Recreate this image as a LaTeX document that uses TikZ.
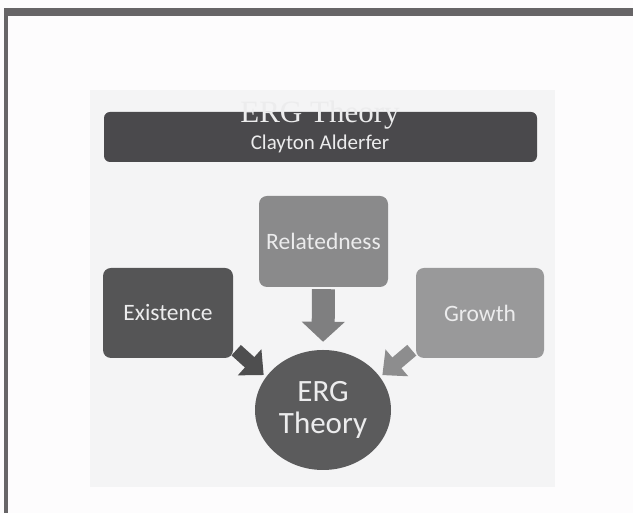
\documentclass[tikz,border=0pt]{standalone}
\usepackage{fontspec}
\usepackage{tikz}
\usetikzlibrary{arrows.meta,positioning,shapes.geometric}
\newfontfamily\bodyfont{Carlito}
\newfontfamily\titlefont{Liberation Serif}
\definecolor{pagewhite}{RGB}{253,252,253}
\definecolor{slidegray}{RGB}{244,244,245}
\definecolor{framegray}{RGB}{103,101,103}
\definecolor{bannergray}{RGB}{74,73,76}
\definecolor{existgray}{RGB}{85,85,86}
\definecolor{relategray}{RGB}{138,138,139}
\definecolor{growgray}{RGB}{153,153,154}
\definecolor{ergcircle}{RGB}{91,91,92}
\definecolor{textlight}{RGB}{236,236,237}

\begin{document}
\begin{tikzpicture}[
    x=1pt, y=1pt,
    box/.style={rectangle, rounded corners=8pt, minimum width=129pt, minimum height=90pt, inner sep=0pt, text=textlight, font=\bodyfont\fontsize{23.5}{26}\selectfont},
    fatarrow/.style={-{Triangle[length=20pt,width=42pt]}, line width=23pt},
    slimarrow/.style={-{Triangle[length=19pt,width=34pt]}, line width=14pt}
]
\useasboundingbox (0,0) rectangle (633,513);
\fill[pagewhite] (0,0) rectangle (633,513);
\fill[slidegray] (90,26) rectangle (555,423);
% frame of the screen
\fill[framegray] (4,497) rectangle (633,505);
\fill[framegray] (4,0) rectangle (8,505);

% banner
\node[rectangle, rounded corners=6pt, fill=bannergray, minimum width=433pt, minimum height=50pt] (banner) at (320.5,376) {};
\node[anchor=base, text=textlight, font=\titlefont\fontsize{31}{34}\selectfont] (title) at (320,390) {ERG Theory};
\node[anchor=base, text=textlight, font=\bodyfont\fontsize{21}{24}\selectfont] (author) at (320,363) {Clayton Alderfer};

% needs
\node[box, fill=relategray, minimum height=91pt] (rel) at (323.5,271.5) {Relatedness};
\node[box, fill=existgray, minimum width=130pt] (ext) at (168,200) {Existence};
\node[box, fill=growgray, minimum width=128pt] (gro) at (480,200) {Growth};
\node[ellipse, fill=ergcircle, minimum width=136pt, minimum height=120pt, inner sep=0pt, text=textlight, align=center, font=\bodyfont\fontsize{31}{32}\selectfont] (erg) at (323,103) {ERG\\Theory};

\draw[fatarrow, draw=relategray!92!black, fill=relategray!92!black, shorten <=2pt, shorten >=8pt] (rel.south) -- (erg.north);
\draw[slimarrow, draw=existgray!92!black, fill=existgray!92!black, shorten >=3pt] ([shift={(3pt,8pt)}]ext.south east) -- (erg.150);
\draw[slimarrow, draw=growgray!92!black, fill=growgray!92!black, shorten >=3pt] ([shift={(-4pt,8pt)}]gro.south west) -- (erg.30);

\end{tikzpicture}
\end{document}
